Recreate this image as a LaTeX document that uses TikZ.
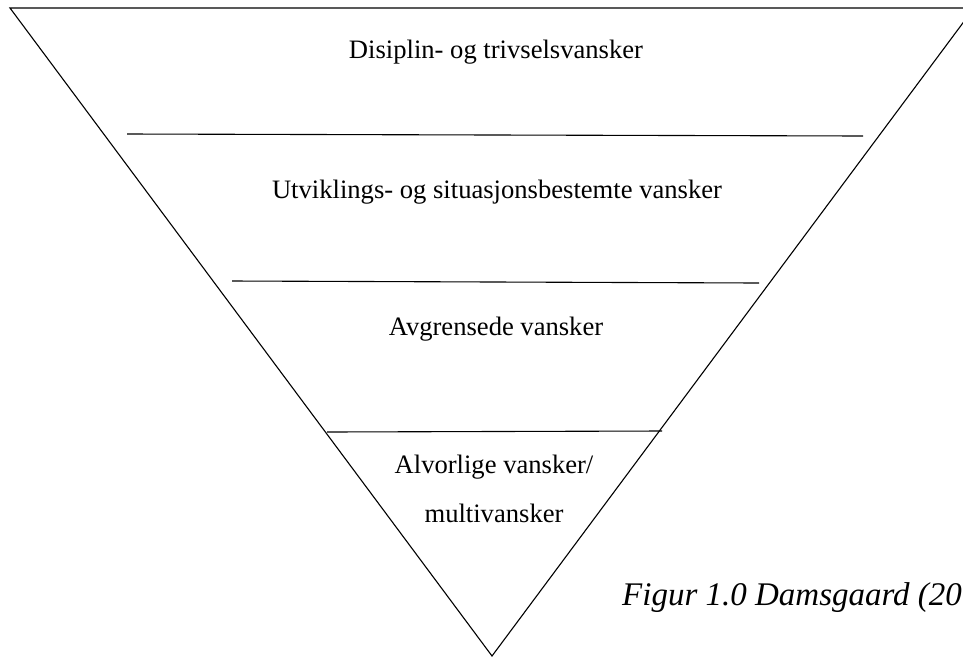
\documentclass[tikz,border=0pt]{standalone}
\usepackage{fontspec}
\setmainfont{Liberation Serif}
\begin{document}
\begin{tikzpicture}[x=1pt,y=-1pt,
  edge/.style={line width=1.1pt,black},
  lbl/.style={font=\fontsize{26.6}{30}\selectfont,inner sep=0pt,anchor=base}]
\useasboundingbox (0,0) rectangle (963,657);
\clip (0,0) rectangle (963,657);
\fill[white] (0,0) rectangle (963,657);
\coordinate (tl) at (10,8);
\coordinate (tr) at (974,8);
\coordinate (bt) at (492,656);
\draw[edge,line join=miter] (tl) -- (tr) -- (bt) -- cycle;
\coordinate (a1) at (127,134); \coordinate (b1) at (863,136);
\coordinate (a2) at (232,281); \coordinate (b2) at (759,283);
\coordinate (a3) at (327,432); \coordinate (b3) at (662,431);
\draw[edge] (a1) -- (b1);
\draw[edge] (a2) -- (b2);
\draw[edge] (a3) -- (b3);
\node[lbl] (t1) at (496,58) {Disiplin- og trivselsvansker};
\node[lbl] (t2) at (497,198) {Utviklings- og situasjonsbestemte vansker};
\node[lbl] (t3) at (496,335) {Avgrensede vansker};
\node[lbl] (t4) at (494,473) {Alvorlige vansker/};
\node[lbl] (t5) at (494,522) {multivansker};
\node[lbl,anchor=base west,font=\fontsize{33}{38}\selectfont\itshape] (cap) at (622,605) {Figur 1.0 Damsgaard (2005)};
\end{tikzpicture}
\end{document}
